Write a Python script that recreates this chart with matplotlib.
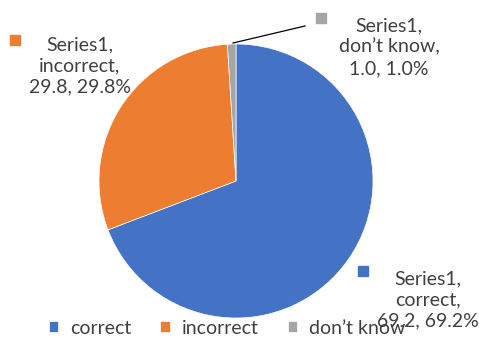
import matplotlib.pyplot as plt
from matplotlib.patches import Rectangle

# data
series_name = "Series1"
categories = ["correct", "incorrect", "don\u2019t know"]
values = [69.2, 29.8, 1.0]
colors = ["#4472C4", "#ED7D31", "#A5A5A5"]

W, H = 479, 338
plt.rcParams["font.family"] = ["Lato", "DejaVu Sans"]
fig = plt.figure(figsize=(W / 100, H / 100), dpi=100)


def fx(x):
    return x / W


def fy(y):
    return 1 - y / H


# pie: centre (236, 181), radius 137 px
cx, cy, r = 236, 181, 137
ax = fig.add_axes([fx(cx - r), fy(cy + r), 2 * r / W, 2 * r / H])
wedges, _ = ax.pie(values, colors=colors, startangle=90, counterclock=False,
                   wedgeprops=dict(linewidth=0.5, edgecolor="white"))
ax.set_xlim(-1, 1)
ax.set_ylim(-1, 1)
ax.set_aspect("auto")
ax.axis("off")

# data labels (text centre x, middle line y, marker x, marker y)
label_pos = [(428, 300, 358, 266), (80, 66, 10, 35), (389, 47, 316, 13)]
for cat, val, col, (tx, ty, mx, my) in zip(categories, values, colors, label_pos):
    txt = f"{series_name},\n{cat},\n{val:.1f}, {val:.1f}%"
    fig.text(fx(tx), fy(ty), txt, ha="center", va="center", fontsize=14,
             color="#404040", linespacing=1.3, zorder=5)
    fig.add_artist(Rectangle((fx(mx), fy(my + 10)), 10 / W, 10 / H,
                             transform=fig.transFigure, color=col, zorder=5))

# leader line for the small slice
fig.add_artist(plt.Line2D([fx(233), fx(305)], [fy(43), fy(26)],
                          transform=fig.transFigure, color="black", linewidth=0.9))

fig.legend(wedges, categories, loc="center", bbox_to_anchor=(fx(227), fy(328)),
           ncol=3, frameon=False, fontsize=14, handlelength=0.5, handleheight=0.5,
           handletextpad=0.6, columnspacing=1.5, labelcolor="#404040")

fig.savefig("out.png", dpi=100)
